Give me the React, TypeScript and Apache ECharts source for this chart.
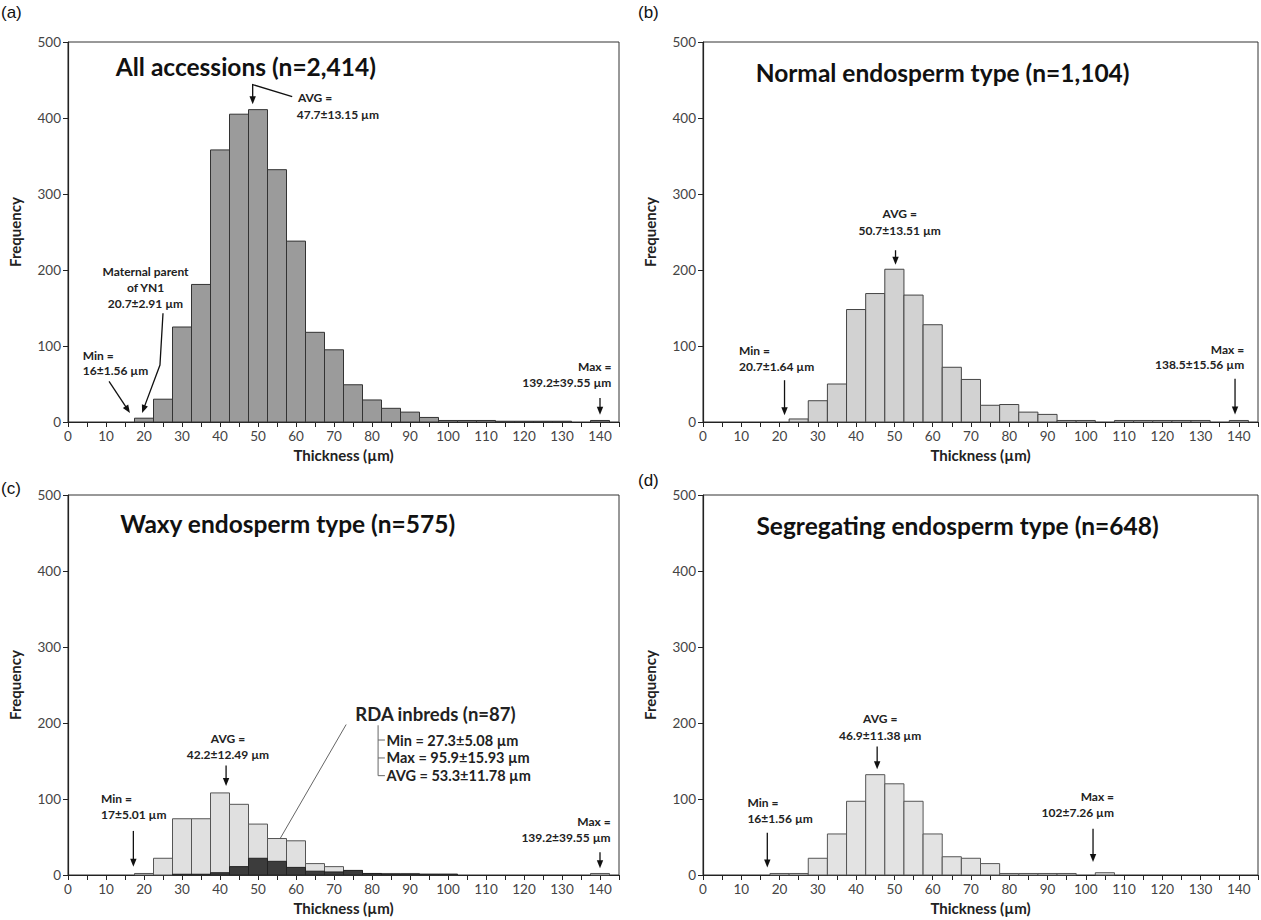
import React, { useEffect, useRef } from "react";
import * as echarts from "echarts";

// ---- data ----
const BIN_CENTERS = [20, 25, 30, 35, 40, 45, 50, 55, 60, 65, 70, 75, 80, 85, 90, 95, 100, 105, 110, 115, 120, 125, 130, 135, 140];
const ALL_FREQ = [5, 30, 125, 181, 358, 405, 411, 332, 238, 118, 95, 49, 29, 18, 13, 6, 2, 2, 2, 1, 1, 1, 1, 0, 2];
const NORMAL_FREQ = [0, 4, 28, 50, 148, 169, 201, 167, 128, 72, 56, 22, 23, 13, 10, 2, 2, 0, 2, 2, 2, 2, 2, 0, 2];
const WAXY_FREQ = [2, 22, 74, 74, 108, 93, 67, 48, 45, 15, 11, 6, 2, 2, 2, 1, 1, 0, 0, 0, 0, 0, 0, 0, 2];
const RDA_FREQ = [0, 0, 1, 1, 3, 11, 22, 18, 10, 5, 4, 6, 2, 1, 1, 1, 1, 0, 0, 0, 0, 0, 0, 0, 0];
const SEG_FREQ = [2, 2, 22, 54, 97, 132, 120, 97, 54, 24, 22, 15, 2, 2, 2, 2, 0, 3, 0, 0, 0, 0, 0, 0, 0];
const BIN_WIDTH = 5;

const PANEL_LABELS = ["(a)", "(b)", "(c)", "(d)"];
const PANEL_TITLES = [
  "All accessions (n=2,414)",
  "Normal endosperm type (n=1,104)",
  "Waxy endosperm type (n=575)",
  "Segregating endosperm type (n=648)",
];
const X_NAME = "Thickness (µm)";
const Y_NAME = "Frequency";

// ---- layout / style ----
const GRIDS = [
  { left: 68, top: 42, width: 551, height: 380 },
  { left: 703, top: 42, width: 555, height: 380 },
  { left: 68, top: 495, width: 551, height: 380 },
  { left: 703, top: 495, width: 555, height: 380 },
];
const LABEL_POS = [
  { x: 1, y: 4 },
  { x: 638, y: 4 },
  { x: 1, y: 480 },
  { x: 638, y: 472 },
];
const FONT = "Lato, 'Noto Sans', sans-serif";

// annotation layout in data coordinates
type Note = { t: string; x: number; y: number; a: "left" | "center" | "right"; s?: number };
type Arrow = { p: [number, number][]; head: boolean; c?: string; lw?: number };
const TITLE_POS = [
  { x: 46.8, y: 468 },
  { x: 62.6, y: 460 },
  { x: 57.8, y: 463 },
  { x: 66.5, y: 460 },
];
const NOTES: Note[][] = [
  [
    { t: "AVG =", x: 60.5, y: 427, a: "left" },
    { t: "47.7±13.15 µm", x: 60.2, y: 405, a: "left" },
    { t: "Maternal parent", x: 20.4, y: 198, a: "center" },
    { t: "of YN1", x: 20.4, y: 177, a: "center" },
    { t: "20.7±2.91 µm", x: 20.4, y: 156, a: "center" },
    { t: "Min =", x: 3.9, y: 88, a: "left" },
    { t: "16±1.56 µm", x: 3.9, y: 68, a: "left" },
    { t: "Max =", x: 143, y: 73, a: "right" },
    { t: "139.2±39.55 µm", x: 143, y: 52, a: "right" },
  ],
  [
    { t: "AVG =", x: 51.4, y: 274, a: "center" },
    { t: "50.7±13.51 µm", x: 51.4, y: 252, a: "center" },
    { t: "Min =", x: 9.4, y: 94, a: "left" },
    { t: "20.7±1.64 µm", x: 9.4, y: 73, a: "left" },
    { t: "Max =", x: 141.4, y: 96, a: "right" },
    { t: "138.5±15.56 µm", x: 141.4, y: 76, a: "right" },
  ],
  [
    { t: "AVG =", x: 42.1, y: 180, a: "center" },
    { t: "42.2±12.49 µm", x: 42.1, y: 159, a: "center" },
    { t: "Min =", x: 8.7, y: 101, a: "left" },
    { t: "17±5.01 µm", x: 8.7, y: 80, a: "left" },
    { t: "Max =", x: 142.8, y: 71, a: "right" },
    { t: "139.2±39.55 µm", x: 142.8, y: 50, a: "right" },
    { t: "RDA inbreds (n=87)", x: 96.7, y: 212, a: "center", s: 18.5 },
    { t: "Min = 27.3±5.08 µm", x: 83.8, y: 177.6, a: "left", s: 14.5 },
    { t: "Max = 95.9±15.93 µm", x: 83.8, y: 154, a: "left", s: 14.5 },
    { t: "AVG = 53.3±11.78 µm", x: 83.8, y: 130.7, a: "left", s: 14.5 },
  ],
  [
    { t: "AVG =", x: 46.3, y: 206, a: "center" },
    { t: "46.9±11.38 µm", x: 46.3, y: 184, a: "center" },
    { t: "Min =", x: 11.6, y: 95.6, a: "left" },
    { t: "16±1.56 µm", x: 11.6, y: 74.6, a: "left" },
    { t: "Max =", x: 107.4, y: 103, a: "right" },
    { t: "102±7.26 µm", x: 107.4, y: 82.5, a: "right" },
  ],
];
const ARROWS: Arrow[][] = [
  [
    { p: [[59, 428], [48.6, 444], [48.6, 418]], head: true },
    { p: [[25, 143], [24.2, 75], [19.5, 12]], head: true },
    { p: [[10.8, 53.5], [16.3, 12]], head: true },
    { p: [[140, 31.6], [140, 9.6]], head: true },
  ],
  [
    { p: [[50.3, 226], [50.3, 207]], head: true },
    { p: [[21.3, 55], [21.3, 9]], head: true },
    { p: [[139, 57], [139, 10]], head: true },
  ],
  [
    { p: [[41.6, 144], [41.6, 117]], head: true },
    { p: [[17.2, 58], [17.2, 11]], head: true },
    { p: [[140, 30], [140, 9]], head: true },
    { p: [[73.2, 198], [51.2, 8]], head: false, c: "#666", lw: 1 },
    { p: [[81.6, 197], [81.6, 130.7], [83.4, 130.7]], head: false, c: "#666", lw: 1 },
    { p: [[81.6, 177.6], [83.4, 177.6]], head: false, c: "#666", lw: 1 },
    { p: [[81.6, 154], [83.4, 154]], head: false, c: "#666", lw: 1 },
  ],
  [
    { p: [[45.5, 169], [45.5, 139]], head: true },
    { p: [[16.8, 55.7], [16.8, 10]], head: true },
    { p: [[101.9, 61], [101.9, 17]], head: true },
  ],
];

function pairs(freq: number[]) {
  return BIN_CENTERS.map((c, i) => [c, freq[i]]).filter((d) => d[1] > 0);
}

function histSeries(idx: number, freq: number[], fill: string, stroke: string) {
  return {
    type: "custom",
    xAxisIndex: idx,
    yAxisIndex: idx,
    data: pairs(freq),
    encode: { x: 0, y: 1 },
    renderItem: (params: any, api: any) => {
      const x = api.value(0);
      const y = api.value(1);
      const p1 = api.coord([x - BIN_WIDTH / 2, y]);
      const p2 = api.coord([x + BIN_WIDTH / 2, 0]);
      return {
        type: "rect",
        shape: { x: p1[0], y: p1[1], width: p2[0] - p1[0], height: p2[1] - p1[1] },
        style: { fill, stroke, lineWidth: 1 },
      };
    },
  };
}

function buildOption() {
  return {
    animation: false,
    backgroundColor: "#fff",
    grid: GRIDS.map((g) => ({ ...g, show: true, borderColor: "#333", borderWidth: 1, backgroundColor: "transparent" })),
    xAxis: GRIDS.map((_, i) => ({
      type: "value",
      gridIndex: i,
      min: 0,
      max: 145,
      interval: 5,
      name: X_NAME,
      nameLocation: "middle",
      nameGap: 25,
      nameTextStyle: { fontFamily: FONT, fontWeight: "bold", fontSize: 15, color: "#222" },
      axisLine: { lineStyle: { color: "#222", width: 1.2 } },
      axisTick: { show: true, length: 5, lineStyle: { color: "#222" } },
      splitLine: { show: false },
      axisLabel: {
        fontFamily: FONT,
        fontSize: 13.5,
        color: "#444",
        margin: 7,
        formatter: (v: number) => (v % 10 === 0 && v <= 140 ? String(v) : ""),
      },
    })),
    yAxis: GRIDS.map((_, i) => ({
      type: "value",
      gridIndex: i,
      min: 0,
      max: 500,
      interval: 100,
      name: Y_NAME,
      nameLocation: "middle",
      nameGap: 46,
      nameTextStyle: { fontFamily: FONT, fontWeight: "bold", fontSize: 15, color: "#222" },
      axisLine: { show: true, lineStyle: { color: "#222", width: 1.2 } },
      axisTick: { show: true, length: 5, lineStyle: { color: "#222" } },
      splitLine: { show: false },
      axisLabel: { fontFamily: FONT, fontSize: 13.5, color: "#444", margin: 7 },
    })),
    series: [
      histSeries(0, ALL_FREQ, "#9b9b9b", "#333"),
      histSeries(1, NORMAL_FREQ, "#d2d2d2", "#444"),
      histSeries(2, WAXY_FREQ, "#e0e0e0", "#555"),
      histSeries(2, RDA_FREQ, "#3c3c3c", "#222"),
      histSeries(3, SEG_FREQ, "#e3e3e3", "#555"),
    ],
  };
}

function buildGraphics(chart: any) {
  const els: any[] = [];
  PANEL_LABELS.forEach((l, i) => {
    els.push({
      type: "text",
      x: LABEL_POS[i].x,
      y: LABEL_POS[i].y,
      style: { text: l, fontFamily: "'Liberation Sans', Arial, sans-serif", fontSize: 17, fill: "#111", align: "left", verticalAlign: "top" },
    });
  });
  for (let i = 0; i < 4; i++) {
    const conv = (p: number[]) => chart.convertToPixel({ gridIndex: i }, p);
    const tp = conv([TITLE_POS[i].x, TITLE_POS[i].y]);
    els.push({
      type: "text",
      x: tp[0],
      y: tp[1],
      style: { text: PANEL_TITLES[i], fontFamily: FONT, fontWeight: "bold", fontSize: 24.5, fill: "#111", align: "center", verticalAlign: "middle" },
    });
    NOTES[i].forEach((n) => {
      const p = conv([n.x, n.y]);
      els.push({
        type: "text",
        x: p[0],
        y: p[1],
        style: { text: n.t, fontFamily: FONT, fontWeight: "bold", fontSize: n.s || 12, fill: "#222", align: n.a, verticalAlign: "middle" },
      });
    });
    ARROWS[i].forEach((a) => {
      const pts = a.p.map((q) => conv(q));
      const color = a.c || "#111";
      const n = pts.length;
      const tip = pts[n - 1];
      const prev = pts[n - 2];
      let linePts = pts;
      if (a.head) {
        const dx = tip[0] - prev[0];
        const dy = tip[1] - prev[1];
        const len = Math.sqrt(dx * dx + dy * dy) || 1;
        const ux = dx / len;
        const uy = dy / len;
        const L = 8;
        const W = 3.2;
        const bx = tip[0] - ux * L;
        const by = tip[1] - uy * L;
        els.push({
          type: "polygon",
          shape: { points: [tip, [bx - uy * W, by + ux * W], [bx + uy * W, by - ux * W]] },
          style: { fill: color },
        });
        linePts = pts.slice(0, n - 1).concat([[tip[0] - ux * 4, tip[1] - uy * 4]]);
      }
      els.push({
        type: "polyline",
        shape: { points: linePts },
        style: { stroke: color, lineWidth: a.lw || 1.3, fill: null },
      });
    });
  }
  return els;
}

export default function App() {
  const ref = useRef<HTMLDivElement>(null);
  useEffect(() => {
    const chart = echarts.init(ref.current!, null, { renderer: "svg" });
    chart.setOption(buildOption());
    chart.setOption({ graphic: buildGraphics(chart) });
    return () => chart.dispose();
  }, []);
  return <div ref={ref} style={{ position: "absolute", left: 0, top: 0, width: 1261, height: 920 }} />;
}
